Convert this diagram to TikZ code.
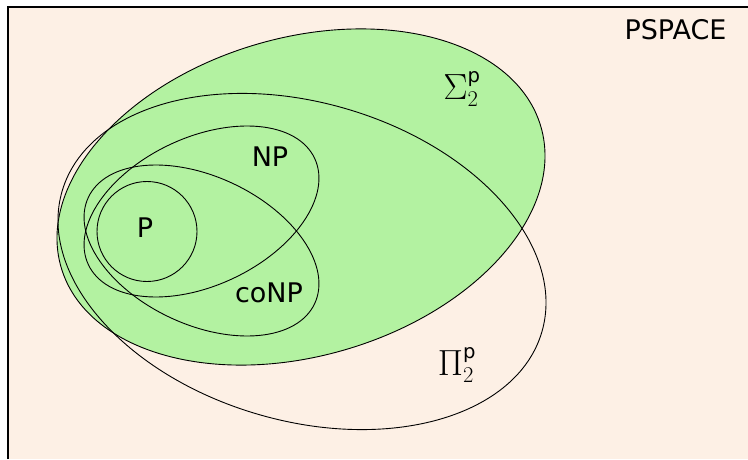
\RequirePackage{fix-cm}
\documentclass[tikz,border=0pt]{standalone}
\usepackage{amsmath}
\usepackage{graphicx}
\usepackage{fontspec}
\setsansfont{DejaVu Sans}
\definecolor{bgcream}{RGB}{253,240,229}
\definecolor{sigmagreen}{RGB}{179,242,161}
\tikzset{
  classline/.style={draw=black, line width=0.9pt},
  lbl/.style={inner sep=0pt, font=\fontsize{27}{32}\selectfont\sffamily},
  mlbl/.style={inner sep=0pt, font=\fontsize{28}{32}\selectfont}
}
\begin{document}
\begin{tikzpicture}[x=1pt,y=1pt]
\useasboundingbox (0,0) rectangle (748,459);
% background frame
\fill[bgcream] (8,0) rectangle (748,452);
\coordinate (fbl) at (8,0);
\coordinate (ftl) at (8,452);
\coordinate (ftr) at (748,452);
\draw[line width=1.2pt] (fbl) -- (ftl) -- (ftr);
% Sigma_2^p (filled)
\fill[sigmagreen, rotate around={16.4:(301,262)}] (301,262) ellipse [x radius=250, y radius=159];
% outlines
\draw[classline, rotate around={16.4:(301,262)}] (301,262) ellipse [x radius=250, y radius=159];
\draw[classline, rotate around={-16.4:(302,197.5)}] (302,197.5) ellipse [x radius=250, y radius=159];
\draw[classline, rotate around={25.15:(201.5,247.5)}] (201.5,247.5) ellipse [x radius=125, y radius=74];
\draw[classline, rotate around={-25.15:(201.5,208.5)}] (201.5,208.5) ellipse [x radius=125, y radius=74];
\draw[classline] (147,227.5) circle [radius=50];
% labels
\node[lbl] (pspace) at (675.5,429.3) {PSPACE};
\node[mlbl] (sigma) at (462,370) {$\scalebox{1.3}{$\Sigma$}_{\scalebox{1.15}{$\scriptstyle 2$}}^{\text{\sffamily p}}$};
\node[mlbl] (pi) at (457,94) {$\scalebox{1.3}{$\Pi$}_{\scalebox{1.15}{$\scriptstyle 2$}}^{\text{\sffamily p}}$};
\node[lbl] (np) at (270,302) {NP};
\node[lbl] (conp) at (269,166) {coNP};
\node[lbl] (p) at (145,231) {P};
\end{tikzpicture}
\end{document}
